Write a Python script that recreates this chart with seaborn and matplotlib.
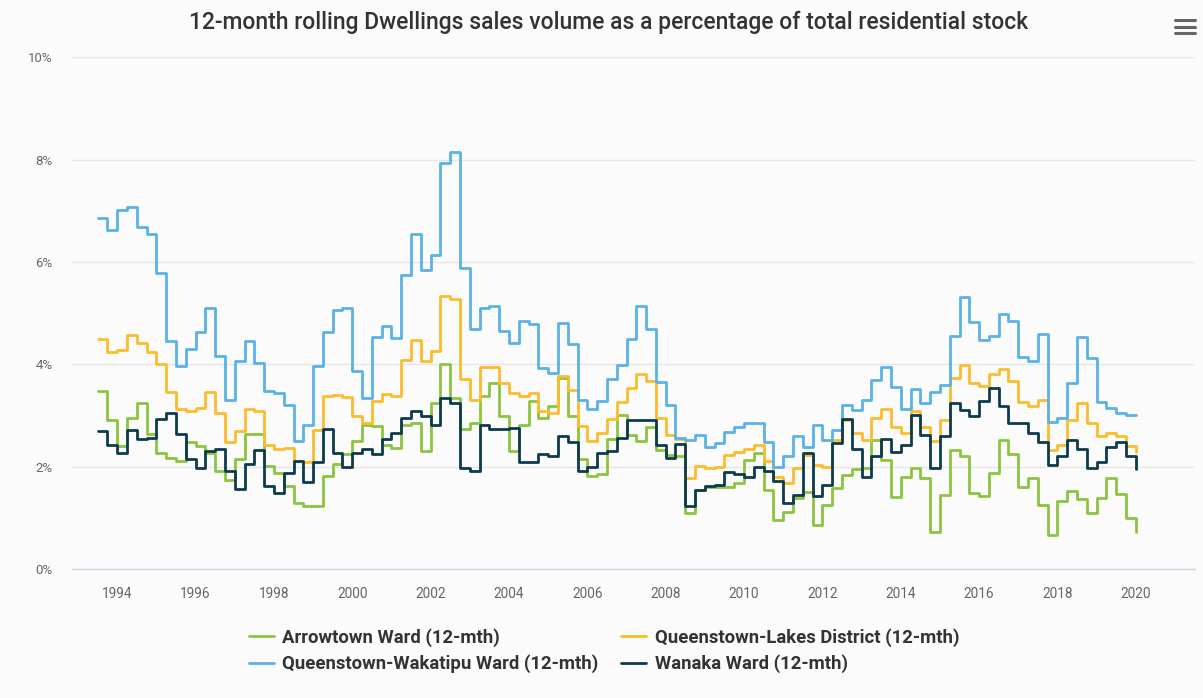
import numpy as np
import pandas as pd
import matplotlib
matplotlib.use("Agg")
import matplotlib.pyplot as plt
from matplotlib.lines import Line2D
import seaborn as sns

# ---------------- data (quarterly, from mid-1993 to 2020) ----------------
start_year = 1993.5
step = 0.25

arrowtown = [3.48, 2.91, 2.41, 2.95, 3.25, 2.63, 2.27, 2.17, 2.11, 2.47,
             2.40, 2.27, 1.91, 1.74, 2.15, 2.63, 2.63, 2.01, 1.88, 1.62,
             1.29, 1.22, 1.22, 1.82, 2.04, 2.24, 2.50,
             2.82, 2.79, 2.43, 2.37, 2.82, 2.85, 2.30, 3.25, 4.00, 3.34,
             2.73, 2.85, 3.37, 3.64, 2.99, 2.30, 2.82, 3.28, 2.95, 3.18,
             3.73, 2.99, 2.14, 1.82, 1.85, 2.53, 3.00,
             2.62, 2.49, 2.78, 2.33, 2.23, 2.21, 1.09, 1.54, 1.60, 1.60,
             1.60, 1.67, 2.13, 2.26, 1.54, 0.96, 1.12, 1.38, 1.51, 0.86,
             1.25, 1.58, 1.84, 1.95, 1.97, 2.52,
             2.13, 1.41, 1.80, 1.98, 1.78, 0.72, 1.44, 2.33, 2.20, 1.49,
             1.42, 1.87, 2.52, 2.25, 1.60, 1.78, 1.25, 0.66, 1.32, 1.53,
             1.36, 1.10, 1.39, 1.78, 1.46, 1.00, 0.72]

queenstown_lakes = [4.50, 4.24, 4.28, 4.58, 4.41, 4.24, 4.00, 3.46, 3.12, 3.08,
                    3.15, 3.46, 3.04, 2.47, 2.69, 3.13, 3.08, 2.43, 2.35, 2.37,
                    2.11, 2.08, 2.71, 3.38, 3.40, 3.35, 2.99,
                    2.86, 3.28, 3.41, 3.38, 4.08, 4.48, 4.06, 4.26, 5.33, 5.27,
                    3.72, 3.31, 3.94, 3.94, 3.64, 3.43, 3.38, 3.43, 3.08, 3.05,
                    3.76, 3.50, 2.80, 2.50, 2.66, 2.93, 3.27,
                    3.54, 3.80, 3.68, 2.94, 2.62, 2.54, 1.77, 2.01, 1.97, 2.00,
                    2.23, 2.29, 2.34, 2.42, 2.10, 1.80, 1.67, 1.97, 2.23, 2.03,
                    2.00, 2.51, 2.91, 2.65, 2.52, 2.94,
                    3.12, 2.78, 2.66, 3.08, 2.78, 2.49, 2.91, 3.73, 3.99, 3.63,
                    3.58, 3.80, 3.90, 3.68, 3.27, 3.19, 3.30, 2.33, 2.42, 2.91,
                    3.24, 2.85, 2.59, 2.66, 2.59, 2.40, 2.29]

queenstown_wakatipu = [6.86, 6.63, 7.02, 7.07, 6.68, 6.54, 5.79, 4.45, 3.96, 4.29,
                       4.63, 5.10, 4.17, 3.31, 4.06, 4.45, 4.03, 3.47, 3.44, 3.21,
                       2.50, 2.82, 3.96, 4.63, 5.05, 5.09, 3.87, 3.34, 4.54, 4.74,
                       4.52, 5.75, 6.55, 5.85, 6.14, 7.93, 8.15, 5.88, 4.69, 5.10,
                       5.13, 4.64, 4.41, 4.84, 4.78, 3.93, 3.83, 4.81, 4.40, 3.31,
                       3.12, 3.28, 3.72, 3.99, 4.49, 5.14, 4.68, 3.66, 3.21, 2.55,
                       2.52, 2.62, 2.39, 2.46, 2.68, 2.78, 2.85, 2.85, 2.47, 1.99,
                       2.20, 2.59, 2.39, 2.81, 2.52, 2.72, 3.20, 3.10, 3.30, 3.69,
                       3.95, 3.56, 3.12, 3.51, 3.25, 3.45, 3.60, 4.55, 5.32, 4.83,
                       4.47, 4.55, 4.98, 4.85, 4.15, 4.06, 4.60, 2.88, 2.95, 3.64,
                       4.54, 4.12, 3.27, 3.14, 3.05, 3.00, 3.01]

wanaka = [2.69, 2.43, 2.27, 2.71, 2.53, 2.56, 2.93, 3.04, 2.63, 2.14,
          1.97, 2.30, 2.35, 1.91, 1.57, 2.04, 2.32, 1.61, 1.48, 1.88,
          2.11, 1.69, 2.09, 2.74, 2.27, 2.00, 2.27,
          2.34, 2.24, 2.53, 2.66, 2.95, 3.08, 2.99, 2.82, 3.34, 3.24,
          1.98, 1.91, 2.82, 2.74, 2.73, 2.76, 2.08, 2.08, 2.24, 2.21,
          2.60, 2.47, 1.91, 2.00, 2.27, 2.30, 2.56,
          2.90, 2.90, 2.91, 2.42, 2.16, 2.44, 1.22, 1.54, 1.61, 1.64,
          1.90, 1.86, 1.80, 2.00, 1.92, 1.71, 1.28, 1.45, 2.27, 1.43,
          1.64, 2.46, 2.93, 2.34, 1.80, 2.20,
          2.53, 2.29, 2.42, 3.01, 2.62, 1.97, 2.59, 3.25, 3.11, 2.99,
          3.29, 3.53, 3.19, 2.86, 2.86, 2.66, 2.47, 2.03, 2.20, 2.51,
          2.34, 1.97, 2.09, 2.39, 2.47, 2.20, 1.95]

series_names = ["Arrowtown Ward (12-mth)",
                "Queenstown-Lakes District (12-mth)",
                "Queenstown-Wakatipu Ward (12-mth)",
                "Wanaka Ward (12-mth)"]
series_values = [arrowtown, queenstown_lakes, queenstown_wakatipu, wanaka]
colors = ["#8cc43f", "#fdbc2c", "#5ab2e6", "#0d3a4e"]

x_ticks = list(range(1994, 2021, 2))
y_ticks = [0, 2, 4, 6, 8, 10]
title = "12-month rolling Dwellings sales volume as a percentage of total residential stock"

# ---------------- build long table ----------------
frames = []
for name, vals in zip(series_names, series_values):
    yrs = start_year + step * np.arange(len(vals))
    frames.append(pd.DataFrame({"year": yrs, "value": vals, "series": name}))
df = pd.concat(frames, ignore_index=True)

# ---------------- plot ----------------
sns.set_theme(style="white")
plt.rcParams["font.family"] = ["Roboto", "DejaVu Sans"]

bg = "#fbfbfb"
fig = plt.figure(figsize=(12.03, 6.98), dpi=100, facecolor=bg)
ax = fig.add_axes([0.060, 0.185, 0.933, 0.733], facecolor=bg)

sns.lineplot(data=df, x="year", y="value", hue="series",
             hue_order=series_names, palette=dict(zip(series_names, colors)),
             estimator=None, sort=True, drawstyle="steps-post",
             linewidth=2.0, ax=ax, legend=False)

ax.set_xlim(1992.85, 2021.5)
ax.set_ylim(0, 10)
ax.set_yticks(y_ticks)
ax.set_yticklabels([f"{v}%" for v in y_ticks])
ax.set_xticks(x_ticks)
ax.set_xticklabels([str(v) for v in x_ticks])
ax.set_xlabel("")
ax.set_ylabel("")

ax.grid(axis="y", color="#e6e6e6", linewidth=1.0)
ax.grid(axis="x", visible=False)
ax.set_axisbelow(True)
for s in ["top", "right", "left"]:
    ax.spines[s].set_visible(False)
ax.spines["bottom"].set_color("#ccd6eb")
ax.spines["bottom"].set_linewidth(1.0)
ax.tick_params(axis="x", direction="out", length=7, width=1, color="#ccd6eb",
               labelsize=9.8, labelcolor="#666666", pad=6)
ax.tick_params(axis="y", length=0, labelsize=9.5, labelcolor="#666666", pad=14)

fig.text(0.506, 0.968, title, ha="center", va="center", fontsize=16.5,
         color="#333333", fontweight="medium")

# hamburger menu icon
for yy in [0.953, 0.962, 0.971]:
    fig.add_artist(Line2D([0.977, 0.993], [yy, yy], color="#666666",
                          linewidth=2.2, solid_capstyle="round"))

# legend: row1 Arrowtown / QLD, row2 QW / Wanaka
order = [0, 2, 1, 3]
handles = [Line2D([0], [0], color=colors[i], linewidth=2.0) for i in order]
labels = [series_names[i] for i in order]
leg = fig.legend(handles, labels, loc="upper center", ncol=2,
                 bbox_to_anchor=(0.502, 0.124), frameon=False,
                 prop={"size": 13.3, "weight": "bold"}, handlelength=1.35,
                 handletextpad=0.45, columnspacing=1.25, labelspacing=0.42)
for t in leg.get_texts():
    t.set_color("#333333")

fig.savefig("out.png", dpi=100, facecolor=bg)
